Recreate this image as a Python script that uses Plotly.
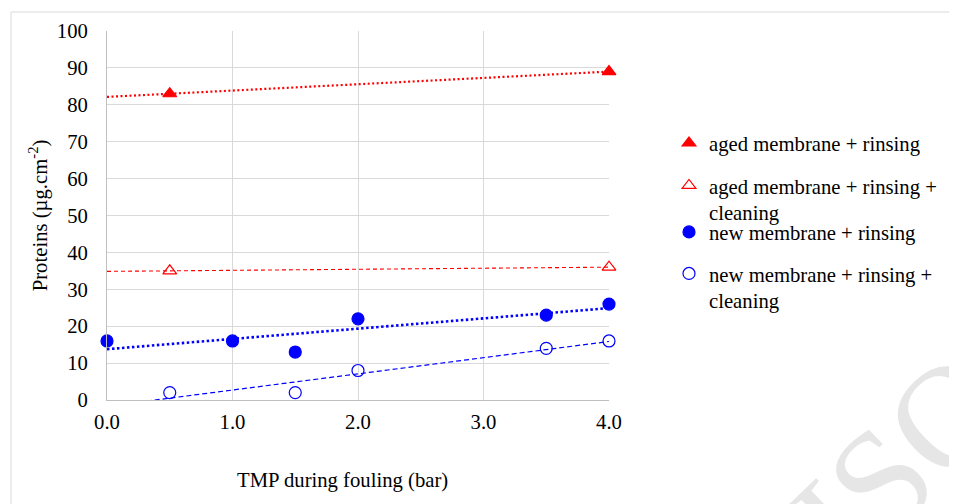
import numpy as np
import plotly.graph_objects as go

# Data
aged_rinse_x = [0.5, 4.0]
aged_rinse_y = [83, 89]
aged_clean_x = [0.5, 4.0]
aged_clean_y = [35, 36]
new_rinse_x = [0.0, 1.0, 1.5, 2.0, 3.5, 4.0]
new_rinse_y = [16, 16, 13, 22, 23, 26]
new_clean_x = [0.5, 1.5, 2.0, 3.5, 4.0]
new_clean_y = [2, 2, 8, 14, 16]

names = ["aged membrane + rinsing",
         "aged membrane + rinsing +<br>cleaning",
         "new membrane + rinsing",
         "new membrane + rinsing +<br>cleaning"]

RED = "#ff0000"
BLUE = "#0000ff"
FONT = "Times New Roman, Liberation Serif, serif"
FS = 20.7

fig = go.Figure()


def trend(xs, ys):
    k, b = np.polyfit(xs, ys, 1)
    tx = np.array([0.0, 4.0])
    return tx, k * tx + b


series = [
    (aged_rinse_x, aged_rinse_y, names[0], "triangle-up", RED, "2px,2.5px", 2.2, "legend"),
    (aged_clean_x, aged_clean_y, names[1], "triangle-up-open", RED, "4px,3px", 1.1, "legend2"),
    (new_rinse_x, new_rinse_y, names[2], "circle", BLUE, "2.5px,2.5px", 2.6, "legend3"),
    (new_clean_x, new_clean_y, names[3], "circle-open", BLUE, "5px,3px", 1.2, "legend4"),
]

for xs, ys, nm, sym, col, dash, lw, lg in series:
    tx, ty = trend(xs, ys)
    fig.add_trace(go.Scatter(x=tx, y=ty, mode="lines", showlegend=False,
                             line=dict(color=col, dash=dash, width=lw),
                             hoverinfo="skip"))
for xs, ys, nm, sym, col, dash, lw, lg in series:
    fig.add_trace(go.Scatter(x=xs, y=ys, mode="markers", name=nm, legend=lg,
                             cliponaxis=False,
                             marker=dict(symbol=sym, color=col, size=12,
                                         line=dict(color=col, width=1.2))))

# page offset of the figure inside the window
OX, OY = 7, 8
W, H = 957, 504
L, T = 106 - OX, 31 - OY
pw, ph = 502, 369
R = W - L - pw
B = H - T - ph


def px_x(px):
    return (px - OX - L) / pw


def px_y(py):
    return (T + ph - (py - OY)) / ph


leg_common = dict(font=dict(family=FONT, size=FS, color="black"),
                  bgcolor="rgba(0,0,0,0)", xanchor="left", yanchor="middle",
                  valign="top", itemsizing="trace")
fig.update_layout(
    legend=dict(x=px_x(668), y=px_y(143), **leg_common),
    legend2=dict(x=px_x(668), y=px_y(199), **leg_common),
    legend3=dict(x=px_x(668), y=px_y(232), **leg_common),
    legend4=dict(x=px_x(668), y=px_y(287), **leg_common),
)

fig.update_xaxes(range=[0, 4], dtick=1, tickformat=".1f", showgrid=True,
                 gridcolor="#d9d9d9", gridwidth=1, showline=True,
                 linecolor="#bfbfbf", linewidth=1, zeroline=False,
                 ticks="", ticklabelstandoff=3, automargin=False,
                 tickfont=dict(family=FONT, size=FS, color="black"))
fig.update_yaxes(range=[0, 100], dtick=10, showgrid=True,
                 gridcolor="#d9d9d9", gridwidth=1, showline=True,
                 linecolor="#bfbfbf", linewidth=1, zeroline=False,
                 ticks="", ticklabelstandoff=14, automargin=False,
                 tickfont=dict(family=FONT, size=FS, color="black"),
                 title=dict(text="Proteins (µg.cm<sup>-2</sup>)",
                            font=dict(family=FONT, size=FS, color="black"),
                            standoff=3))

fig.add_annotation(text="TMP during fouling (bar)", xref="paper", yref="paper",
                   x=px_x(341), y=px_y(480), showarrow=False,
                   xanchor="center", yanchor="middle",
                   font=dict(family=FONT, size=FS, color="black"))

# watermark
fig.add_annotation(text="ISO", xref="paper", yref="paper",
                   x=px_x(900), y=px_y(460), showarrow=False, textangle=-44,
                   xanchor="center", yanchor="middle",
                   font=dict(family=FONT, size=145, color="#e6e6e6"))

# chart frame
fig.add_shape(type="rect", xref="paper", yref="paper", layer="below",
              x0=px_x(10), x1=px_x(1000), y0=px_y(560), y1=px_y(12),
              line=dict(color="#d9d9d9", width=1))

fig.update_layout(width=W, height=H, margin=dict(l=L, r=R, t=T, b=B),
                  paper_bgcolor="white", plot_bgcolor="white",
                  font=dict(family=FONT, size=FS, color="black"))

fig.write_html("out.html")
